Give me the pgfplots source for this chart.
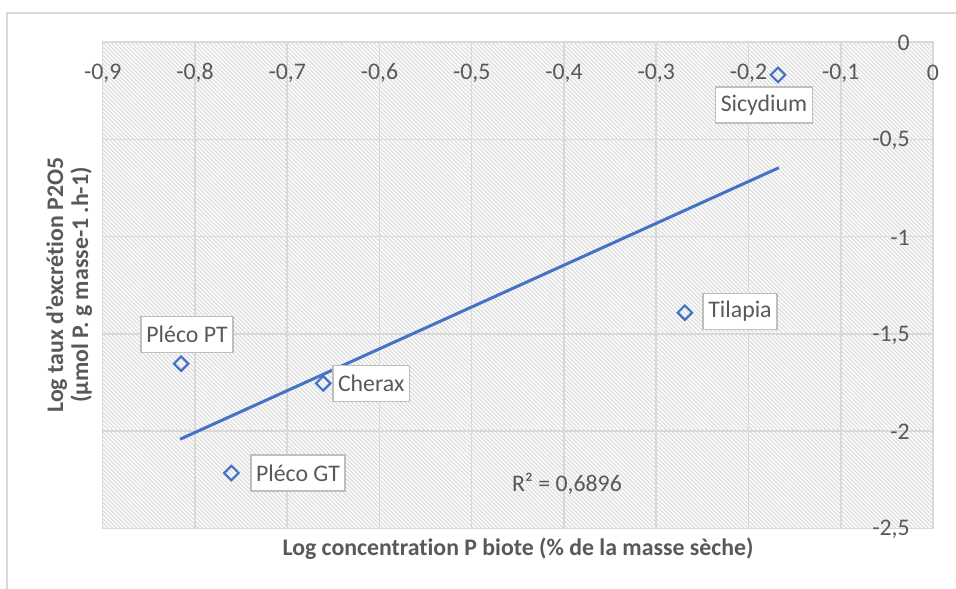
\documentclass[border=0pt]{standalone}
\usepackage{fontspec}
\setmainfont{Carlito}[Ligatures=NoCommon]
\usepackage{pgfplots}
\pgfplotsset{compat=1.18}
\usetikzlibrary{patterns.meta}
\definecolor{gridgray}{RGB}{217,217,217}
\definecolor{boxgray}{RGB}{191,191,191}
\definecolor{txtgray}{RGB}{89,89,89}
\definecolor{xlblue}{RGB}{68,114,196}
\definecolor{hatch}{RGB}{222,222,222}
\newcommand{\lblfont}{\fontsize{11.9}{14.2}\selectfont}
\tikzset{lbl/.style={draw=boxgray, line width=0.75pt, fill=white, text=txtgray, font=\lblfont,
              inner xsep=2.6pt, inner ysep=0pt, minimum height=18pt}}
\begin{document}
\begin{tikzpicture}[x=1pt,y=1pt]
\useasboundingbox (0,0) rectangle (478,294);
\fill[white] (0,0) rectangle (478,294);
\draw[gridgray, line width=0.75pt] (3.5,-2) -- (3.5,287.5) -- (480,287.5);
\begin{axis}[
  at={(51.35pt,29.75pt)}, anchor=south west,
  width=415.15pt, height=243.25pt, scale only axis,
  xmin=-0.9, xmax=0, ymin=-2.5, ymax=0,
  axis line style={gridgray, line width=0.75pt},
  grid=major, grid style={gridgray, line width=0.75pt},
  axis background/.style={pattern={Lines[angle=-45, distance=1.45pt, line width=0.65pt]}, pattern color=hatch},
  xtick={-0.9,-0.8,-0.7,-0.6,-0.5,-0.4,-0.3,-0.2,-0.1,0},
  ytick={-2.5,-2,-1.5,-1,-0.5,0},
  major tick length=0pt,
  xticklabel pos=top, yticklabel pos=right,
  xticklabel style={anchor=center, inner sep=0pt, yshift=-15.5pt},
  yticklabel style={anchor=east, inner sep=0pt, xshift=-11.5pt, yshift=-0.5pt},
  ticklabel style={font=\lblfont, text=txtgray},
  /pgf/number format/assume math mode=true,
  /pgf/number format/use comma,
  clip=false,
]
\addplot[xlblue, line width=1.5pt] coordinates {(-0.816,-2.041)(-0.167,-0.646)};
\addplot[only marks, mark=square, mark size=2.55pt,
  mark options={rotate=45, draw=xlblue, line width=1.1pt, fill=white}] coordinates {
  (-0.168,-0.169)(-0.269,-1.391)(-0.815,-1.653)(-0.661,-1.754)(-0.7605,-2.215)
};
\node[lbl] at (axis cs:-0.1832,-0.323) {Sicydium};
\node[lbl] at (axis cs:-0.2092,-1.385) {Tilapia};
\node[lbl] at (axis cs:-0.8086,-1.503) {Pléco PT};
\node[lbl] at (axis cs:-0.609,-1.754) {Cherax};
\node[lbl] at (axis cs:-0.6883,-2.215) {Pléco GT};
\node[text=txtgray, font=\lblfont] at (axis cs:-0.3968,-2.272) {R² = 0,6896};
\end{axis}
\node[font=\lblfont\bfseries, text=txtgray] at (259,19.5) {Log concentration P biote (\% de la masse sèche)};
\node[font=\fontsize{11.9}{12.6}\selectfont\bfseries, text=txtgray, rotate=90, align=center] at (34.5,151.5)
  {Log taux d'excrétion P2O5\\(µmol P. g masse-1 .h-1)};
\end{tikzpicture}
\end{document}
